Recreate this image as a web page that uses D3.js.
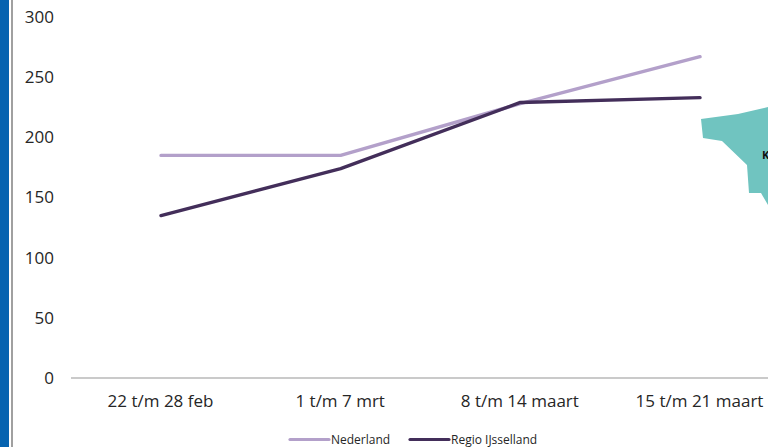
<!DOCTYPE html>
<html>
<head>
<meta charset="utf-8">
<script src="https://cdn.jsdelivr.net/npm/d3@7"></script>
<style>
  html, body { margin: 0; padding: 0; background: #fff; overflow: hidden; }
  text { font-family: "Open Sans", sans-serif; fill: #262626; }
</style>
</head>
<body>
<div id="chart-area"></div>
<script>
// chart values
const weeks = ["22 t/m 28 feb", "1 t/m 7 mrt", "8 t/m 14 maart", "15 t/m 21 maart"];
const nederland = [185, 185, 228, 267];
const regioIjsselland = [135, 174, 229, 233];
const yTicks = [0, 50, 100, 150, 200, 250, 300];

// slide leftovers around the chart
const mapOutline = [[701, 119], [738, 114], [768, 107], [768, 205], [761, 193], [749, 193], [747, 165], [722, 141], [703, 138]];

const canvasWidth = 768;
const canvasHeight = 447;

const svg = d3.select("#chart-area")
  .append("svg")
    .attr("width", canvasWidth)
    .attr("height", canvasHeight)
    .style("display", "block");

// blue band and grey rule on the left
svg.append("rect").attr("x", 0).attr("y", 0).attr("width", 9).attr("height", canvasHeight).attr("fill", "#0563b0");
svg.append("rect").attr("x", 11).attr("y", 0).attr("width", 2).attr("height", canvasHeight).attr("fill", "#a0a0a0");

// map shape behind the chart edge
svg.append("path")
  .attr("d", d3.line()(mapOutline) + "Z")
  .attr("fill", "#70c4c0");
svg.append("text")
  .attr("x", 762)
  .attr("y", 159)
  .attr("font-size", "11px")
  .attr("font-weight", "bold")
  .style("fill", "#111")
  .text("K");

// scales
const xScale = d3.scalePoint()
  .domain(weeks)
  .range([161, 700]);

const yScale = d3.scaleLinear()
  .domain([0, 300])
  .range([378, 17]);

// Y axis, labels only
const yAxis = d3.axisLeft(yScale)
  .tickValues(yTicks)
  .tickSize(0)
  .tickPadding(0);

const yG = svg.append("g")
  .attr("transform", "translate(54,0)")
  .call(yAxis);
yG.select(".domain").remove();
yG.selectAll("text")
  .attr("font-size", "17px")
  .attr("font-family", null);

// X axis
const xAxis = d3.axisBottom(xScale).tickSize(0).tickPadding(17);
const xG = svg.append("g")
  .attr("transform", "translate(-1,378)")
  .call(xAxis);
xG.select(".domain").remove();
xG.selectAll("text")
  .attr("font-size", "17px")
  .attr("font-family", null);

svg.append("line")
  .attr("x1", 71).attr("x2", canvasWidth)
  .attr("y1", yScale(0)).attr("y2", yScale(0))
  .attr("stroke", "#b8b8b8")
  .attr("stroke-width", 1.3);

// lines
const line = d3.line()
  .x((d, i) => xScale(weeks[i]))
  .y((d) => yScale(d));

const series = [
  { name: "Nederland", values: nederland, color: "#b3a0ca" },
  { name: "Regio IJsselland", values: regioIjsselland, color: "#432e5a" }
];

svg.selectAll(".series")
  .data(series)
  .enter()
  .append("path")
    .attr("class", "series")
    .attr("d", (d) => line(d.values))
    .attr("fill", "none")
    .attr("stroke", (d) => d.color)
    .attr("stroke-width", 3.4)
    .attr("stroke-linecap", "round")
    .attr("stroke-linejoin", "round");

// legend
const legendX = [290, 410];
const legend = svg.selectAll(".legend")
  .data(series)
  .enter()
  .append("g")
    .attr("class", "legend")
    .attr("transform", (d, i) => `translate(${legendX[i]},439.5)`);

legend.append("line")
  .attr("x1", 0).attr("x2", 39)
  .attr("stroke", (d) => d.color)
  .attr("stroke-width", 3.2)
  .attr("stroke-linecap", "round");

legend.append("text")
  .attr("x", 41)
  .attr("y", 4)
  .attr("font-size", "12px")
  .text((d) => d.name);
</script>
</body>
</html>
